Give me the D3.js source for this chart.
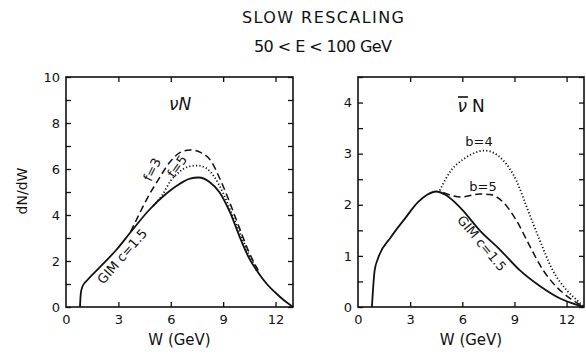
<!DOCTYPE html>
<html>
<head>
<meta charset="utf-8">
<script src="https://cdn.jsdelivr.net/npm/d3@7"></script>
<style>
  html, body { margin: 0; padding: 0; background: #fff; }
  svg { display: block; }
  text { font-family: "DejaVu Sans", "Liberation Sans", sans-serif; fill: #111; }
</style>
</head>
<body>
<svg id="chart" width="586" height="354"></svg>
<script>
// W (GeV) vs dN/dW, neutrino nucleon scattering, slow rescaling
const nuGim = [[0.8,0],[0.85,0.6],[0.95,0.9],[1.2,1.15],[1.9,1.7],[2.9,2.5],[3.8,3.35],[4.8,4.25],[5.7,4.9],[6.5,5.35],[7.1,5.58],[7.6,5.63],[8.2,5.45],[8.8,4.98],[9.4,4.1],[10.0,2.95],[10.5,2.1],[11.0,1.5],[11.5,1.0],[12.0,0.62],[12.5,0.28],[13.0,0]];
const nuF3 = [[3.7,3.27],[4.2,4.05],[4.6,4.65],[5.3,5.55],[6.0,6.35],[6.5,6.7],[7.1,6.83],[7.7,6.72],[8.3,6.35],[8.8,5.6],[9.4,4.5],[10.0,3.3],[10.5,2.35],[11.0,1.6]];
const nuF5 = [[5.0,4.4],[5.5,4.85],[6.0,5.5],[6.5,5.88],[7.0,6.1],[7.5,6.15],[8.0,6.05],[8.5,5.65],[9.0,4.95],[9.5,4.05],[10.0,3.15],[10.5,2.25],[11.0,1.58]];

const nubarGim = [[0.8,0],[0.96,0.72],[1.15,0.95],[1.9,1.37],[2.7,1.73],[3.45,2.05],[4.0,2.2],[4.5,2.26],[5.0,2.2],[5.5,2.07],[6.0,1.9],[7.0,1.5],[8.2,1.11],[9.3,0.72],[10.5,0.4],[11.6,0.17],[12.6,0.04],[13.0,0]];
const nubarB4 = [[4.7,2.28],[5.35,2.67],[6.1,2.9],[7.3,3.06],[8.35,2.87],[9.1,2.48],[9.7,1.96],[10.45,1.31],[11.2,0.72],[12.0,0.33],[12.7,0.1],[13.0,0]];
const nubarB5 = [[4.9,2.24],[5.4,2.18],[5.9,2.15],[7.0,2.21],[7.6,2.2],[8.35,2.05],[9.1,1.7],[9.9,1.18],[10.65,0.72],[11.4,0.4],[12.2,0.17],[13.0,0]];

const xTicks = [0, 3, 6, 9, 12];
const nuYTicks = [0, 2, 4, 6, 8, 10];
const nubarYTicks = [0, 1, 2, 3, 4];

const svg = d3.select("#chart");

svg.append("text").attr("x", 323).attr("y", 23).attr("text-anchor", "middle")
  .attr("font-size", 16).attr("textLength", 162).text("SLOW  RESCALING");
svg.append("text").attr("x", 323).attr("y", 52).attr("text-anchor", "middle")
  .attr("font-size", 16).attr("textLength", 138).text("50 < E < 100 GeV");

svg.append("text").attr("transform", "translate(27,191) rotate(-90)")
  .attr("text-anchor", "middle").attr("font-size", 14)
  .text("dN/dW");

function panel(opt) {
  const x = d3.scaleLinear().domain([0, 13]).range([opt.left, opt.right]);
  const y = d3.scaleLinear().domain([0, opt.ymax]).range([307, 77]);
  const g = svg.append("g");
  const styleText = a => a.selectAll("text").attr("font-size", 13)
    .attr("font-family", "DejaVu Sans, sans-serif").attr("fill", "#111");

  // minor ticks on left/right edges
  const minor = d3.range(0, opt.ymax + 1e-9, opt.minorStep);
  g.append("g").attr("transform", `translate(${opt.left},0)`)
    .call(d3.axisRight(y).tickValues(minor).tickSize(5).tickFormat(""))
    .call(a => a.select(".domain").remove());
  g.append("g").attr("transform", `translate(${opt.right},0)`)
    .call(d3.axisLeft(y).tickValues(minor).tickSize(5).tickFormat(""))
    .call(a => a.select(".domain").remove());
  // labels on left
  g.append("g").attr("transform", `translate(${opt.left},0)`)
    .call(d3.axisLeft(y).tickValues(opt.yTicks).tickSize(0).tickPadding(6).tickFormat(d3.format("d")))
    .call(a => a.select(".domain").remove())
    .call(styleText);
  // top/bottom ticks
  g.append("g").attr("transform", "translate(0,307)")
    .call(d3.axisTop(x).tickValues(xTicks.slice(1)).tickSize(5).tickFormat(""))
    .call(a => a.select(".domain").remove());
  g.append("g").attr("transform", "translate(0,77)")
    .call(d3.axisBottom(x).tickValues(xTicks.slice(1)).tickSize(5).tickFormat(""))
    .call(a => a.select(".domain").remove());
  g.append("g").attr("transform", "translate(0,307)")
    .call(d3.axisBottom(x).tickValues(xTicks).tickSize(0).tickPadding(8).tickFormat(d3.format("d")))
    .call(a => a.select(".domain").remove())
    .call(styleText);
  g.selectAll(".tick line").attr("stroke", "#111").attr("stroke-width", 1.3);

  g.append("rect").attr("x", opt.left).attr("y", 77)
    .attr("width", opt.right - opt.left).attr("height", 230)
    .attr("fill", "none").attr("stroke", "#111").attr("stroke-width", 1.6);

  const line = d3.line().x(d => x(d[0])).y(d => y(d[1])).curve(d3.curveMonotoneX);
  opt.series.forEach(s => {
    g.append("path").attr("d", line(s.data)).attr("fill", "none")
      .attr("stroke", "#111").attr("stroke-width", s.width || 1.8)
      .attr("stroke-dasharray", s.dash || null);
  });

  g.append("text").attr("x", (opt.left + opt.right) / 2).attr("y", 345)
    .attr("text-anchor", "middle").attr("font-size", 15)
    .text("W (GeV)");

  opt.labels.forEach(l => {
    g.append("text").attr("transform", `translate(${l.x},${l.y}) rotate(${l.rot || 0})`)
      .attr("text-anchor", "middle").attr("dominant-baseline", "middle")
      .attr("font-size", l.size || 13).attr("font-style", l.italic ? "italic" : null)
      .text(l.text);
  });
  return { x, y, g };
}

panel({
  left: 66, right: 293, ymax: 10, minorStep: 1, yTicks: nuYTicks,
  series: [
    { data: nuGim },
    { data: nuF3, dash: "7,4", width: 1.5 },
    { data: nuF5, dash: "1.2,2.2", width: 1.8 }
  ],
  labels: [
    { text: "GIM c=1.5", x: 123, y: 257, rot: -49 },
    { text: "f=3", x: 153, y: 170, rot: -64 },
    { text: "f=5", x: 178, y: 167, rot: -55 },
    { text: "\u03BDN", x: 180, y: 105, size: 17, italic: true }
  ]
});

const right = panel({
  left: 358, right: 584, ymax: 4.5, minorStep: 0.5, yTicks: nubarYTicks,
  series: [
    { data: nubarGim },
    { data: nubarB4, dash: "1.2,2.2", width: 1.8 },
    { data: nubarB5, dash: "7,4", width: 1.5 }
  ],
  labels: [
    { text: "GIM  c=1.5", x: 481, y: 244, rot: 50 },
    { text: "b=4", x: 479, y: 142 },
    { text: "b=5", x: 483, y: 187 }
  ]
});
// anti-neutrino symbol: nu with an overbar, then N
right.g.append("text").attr("x", 467).attr("y", 112).attr("text-anchor", "end")
  .attr("font-size", 17).attr("font-style", "italic").text("\u03BD");
right.g.append("line").attr("x1", 458).attr("x2", 468).attr("y1", 97).attr("y2", 97)
  .attr("stroke", "#111").attr("stroke-width", 1.6);
right.g.append("text").attr("x", 472).attr("y", 112).attr("font-size", 17).text("N");
</script>
</body>
</html>
